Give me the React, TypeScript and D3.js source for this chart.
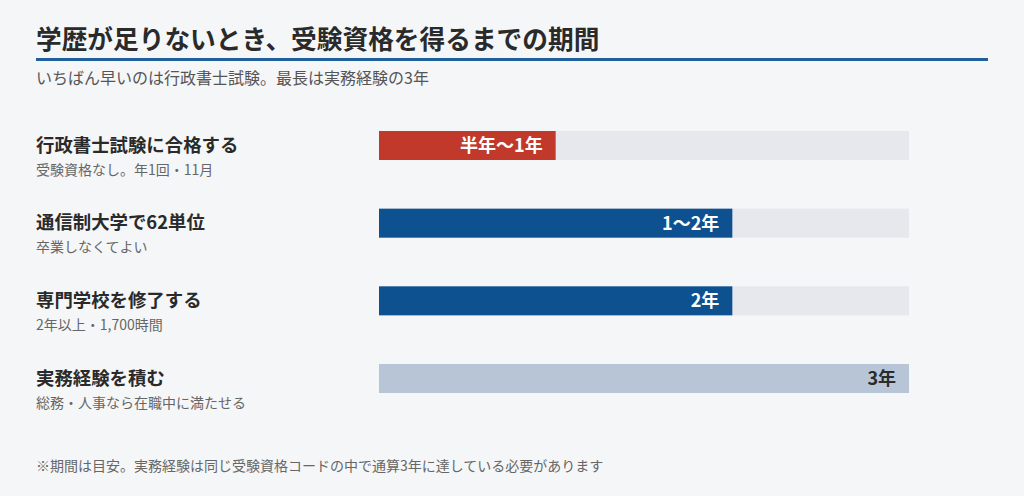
import React from "react";
import * as d3 from "d3";

const title = "学歴が足りないとき、受験資格を得るまでの期間";
const subtitle = "いちばん早いのは行政書士試験。最長は実務経験の3年";
const footnote = "※期間は目安。実務経験は同じ受験資格コードの中で通算3年に達している必要があります";

const categories = ["行政書士試験に合格する", "通信制大学で62単位", "専門学校を修了する", "実務経験を積む"];
const subLabels = ["受験資格なし。年1回・11月", "卒業しなくてよい", "2年以上・1,700時間", "総務・人事なら在職中に満たせる"];
const years = [1, 2, 2, 3];
const valueLabels = ["半年〜1年", "1〜2年", "2年", "3年"];
const barColors = ["#c0392b", "#0d5191", "#0d5191", "#b8c5d6"];
const labelColors = ["#ffffff", "#ffffff", "#ffffff", "#2b2b2b"];
const maxYears = 3;

const W = 1024;
const H = 496;
const FONT = "'Noto Sans CJK JP', 'Noto Sans', sans-serif";

export default function App() {
  const x = d3.scaleLinear().domain([0, maxYears]).range([379, 909]);
  const y = d3.scalePoint<string>().domain(categories).range([131, 364]);
  const barH = 29;

  return (
    <div style={{ position: "fixed", left: 0, top: 0, width: W, height: H }}>
      <svg width={W} height={H} style={{ display: "block", fontFamily: FONT }}>
        <rect x={0} y={0} width={W} height={H} fill="#f5f6f8" />
        <text x={36} y={49} fontSize={25.7} fontWeight={700} fill="#2a2a2a">{title}</text>
        <rect x={36} y={58} width={952} height={3} fill="#1f5f9c" />
        <text x={36} y={83.5} fontSize={16} fill="#555">{subtitle}</text>

        {categories.map((c, i) => {
          const top = y(c) as number;
          return (
            <g key={c}>
              <text x={36} y={top + 20.5} fontSize={18.4} fontWeight={700} fill="#2a2a2a">{c}</text>
              <text x={36} y={top + 43.5} fontSize={14} fill="#666">{subLabels[i]}</text>
              <rect x={x(0)} y={top} width={x(maxYears) - x(0)} height={barH} fill="#e6e8ee" />
              <rect x={x(0)} y={top} width={x(years[i]) - x(0)} height={barH} fill={barColors[i]} />
              <text x={x(years[i]) - 13} y={top + barH / 2} dy="0.36em" textAnchor="end" fontSize={18} fontWeight={700} fill={labelColors[i]}>{valueLabels[i]}</text>
            </g>
          );
        })}

        <text x={36} y={471} fontSize={14} fill="#666">{footnote}</text>
      </svg>
    </div>
  );
}
